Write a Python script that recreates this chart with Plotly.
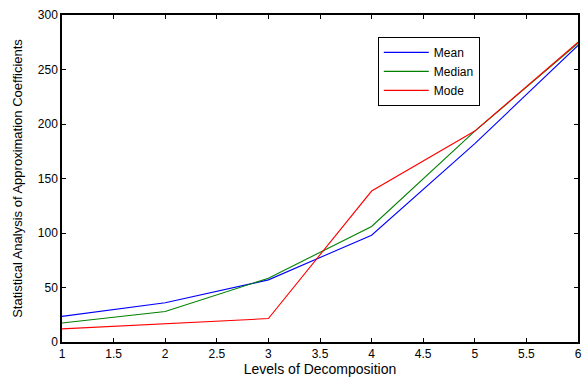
import plotly.graph_objects as go

levels = [1, 2, 3, 4, 5, 6]
mean_vals = [23.5, 36, 57, 98, 182, 272]
median_vals = [17.5, 28, 58.5, 106, 193.5, 274]
mode_vals = [12, 17, 21.5, 138.5, 193.5, 275]

fig = go.Figure()
fig.add_trace(go.Scatter(x=levels, y=mean_vals, mode="lines", name="Mean",
                         line=dict(color="#0000ff", width=1.1)))
fig.add_trace(go.Scatter(x=levels, y=median_vals, mode="lines", name="Median",
                         line=dict(color="#008000", width=1.1)))
fig.add_trace(go.Scatter(x=levels, y=mode_vals, mode="lines", name="Mode",
                         line=dict(color="#ff0000", width=1.1)))

axis_common = dict(showgrid=False, zeroline=False, showline=True, linecolor="black",
                   linewidth=1.5, mirror="ticks", ticks="inside", ticklen=4,
                   tickcolor="black", tickfont=dict(family="Liberation Sans, Arial", size=12, color="black"))

fig.update_layout(
    width=584, height=379,
    margin=dict(l=62, r=2, t=15, b=37),
    paper_bgcolor="white", plot_bgcolor="white",
    font=dict(family="Liberation Sans, Arial", color="black"),
    xaxis=dict(range=[1, 6], tickvals=[1, 1.5, 2, 2.5, 3, 3.5, 4, 4.5, 5, 5.5, 6],
               ticktext=["1", "1.5", "2", "2.5", "3", "3.5", "4", "4.5", "5", "5.5", "6"],
               title=dict(text="Levels of Decomposition", font=dict(size=14), standoff=3),
               **axis_common),
    yaxis=dict(range=[0, 300], tickvals=[0, 50, 100, 150, 200, 250, 300],
               title=dict(text="Statistical Analysis of Approximation Coefficients", font=dict(size=13), standoff=12),
               **axis_common),
    legend=dict(x=0.612, y=0.933, xanchor="left", yanchor="top",
                bgcolor="white", bordercolor="black", borderwidth=1,
                font=dict(size=12), tracegroupgap=0, itemwidth=45),
    showlegend=True,
)

fig.write_html("out.html", config={"displayModeBar": False},
               post_script="document.body.style.margin='0';document.body.style.overflow='hidden';")
